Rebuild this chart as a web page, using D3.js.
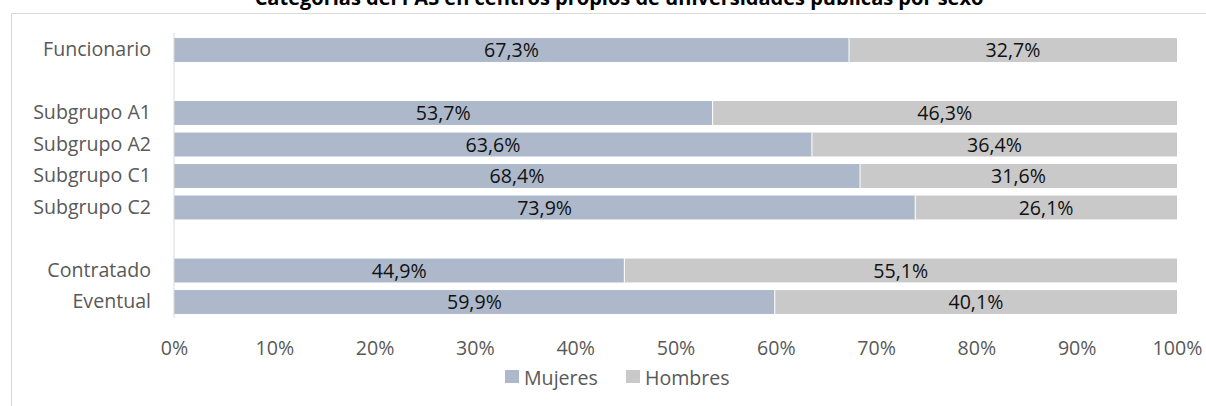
<!DOCTYPE html>
<html><head><meta charset="utf-8">
<script src="https://cdn.jsdelivr.net/npm/d3@7"></script>
<style>body{margin:0;background:#fff;} svg{display:block;font-family:"Open Sans",sans-serif;}</style>
</head><body>
<svg id="c" width="1206" height="406"></svg>
<script>
const categories = ["Funcionario", "", "Subgrupo A1", "Subgrupo A2", "Subgrupo C1", "Subgrupo C2", " ", "Contratado", "Eventual"];
const mujeres = [67.3, null, 53.7, 63.6, 68.4, 73.9, null, 44.9, 59.9];
const hombres = [32.7, null, 46.3, 36.4, 31.6, 26.1, null, 55.1, 40.1];
const seriesNames = ["Mujeres", "Hombres"];
const colors = ["#ADB9CA", "#C9C9C9"];
const ticks = [0, 10, 20, 30, 40, 50, 60, 70, 80, 90, 100];
const title = "Categorías del PAS en centros propios de universidades públicas por sexo";

const FS = 19.6;
const svg = d3.select("#c");
svg.append("rect").attr("x", 11.5).attr("y", 13.5).attr("width", 1210).attr("height", 420)
  .attr("fill", "none").attr("stroke", "#D9D9D9").attr("stroke-width", 1);

svg.append("text").attr("x", 619).attr("y", 4.5).attr("text-anchor", "middle")
  .attr("font-weight", "bold").attr("font-size", 20).attr("fill", "#000").text(title);

const x = d3.scaleLinear().domain([0, 100]).range([174, 1177]);
const y = d3.scaleBand().domain(categories).range([34.25, 317.75]).paddingInner(0.24).paddingOuter(0.12);

const fmt = v => v.toFixed(1).replace(".", ",") + "%";
const rows = categories.map((c, i) => ({c, m: mujeres[i], h: hombres[i]})).filter(d => d.m != null);

const g = svg.append("g");
rows.forEach(d => {
  const segs = [{v0: 0, v1: d.m, col: colors[0]}, {v0: d.m, v1: d.m + d.h, col: colors[1]}];
  segs.forEach(s => {
    g.append("rect").attr("x", x(s.v0)).attr("y", y(d.c)).attr("width", x(s.v1) - x(s.v0))
      .attr("height", y.bandwidth()).attr("fill", s.col);
    g.append("text").attr("x", (x(s.v0) + x(s.v1)) / 2).attr("y", y(d.c) + y.bandwidth() / 2)
      .attr("dy", "0.36em").attr("text-anchor", "middle").attr("font-size", FS).attr("fill", "#111")
      .text(fmt(s.v1 - s.v0));
  });
  g.append("line").attr("x1", x(d.m)).attr("x2", x(d.m)).attr("y1", y(d.c)).attr("y2", y(d.c) + y.bandwidth())
    .attr("stroke", "#fff").attr("stroke-width", 1);
});

const ya = svg.append("g").attr("transform", "translate(174,0)")
  .call(d3.axisLeft(y).tickSize(0).tickPadding(23));
ya.select(".domain").attr("stroke", "#D9D9D9").attr("d", "M0,33V318");
ya.selectAll("text").attr("font-size", FS).attr("fill", "#595959").attr("font-family", "Open Sans, sans-serif");

const xa = svg.append("g").attr("transform", "translate(0,318)")
  .call(d3.axisBottom(x).tickValues(ticks).tickSize(0).tickPadding(23).tickFormat(d => d + "%"));
xa.select(".domain").remove();
xa.selectAll("text").attr("font-size", FS).attr("fill", "#595959").attr("font-family", "Open Sans, sans-serif");

const leg = svg.append("g");
const legX = [505, 626];
seriesNames.forEach((n, i) => {
  leg.append("rect").attr("x", legX[i]).attr("y", 370).attr("width", 14).attr("height", 13).attr("fill", colors[i]);
  leg.append("text").attr("x", legX[i] + 19).attr("y", 378).attr("dy", "0.36em").attr("font-size", FS)
    .attr("fill", "#595959").text(n);
});
</script>
</body></html>
